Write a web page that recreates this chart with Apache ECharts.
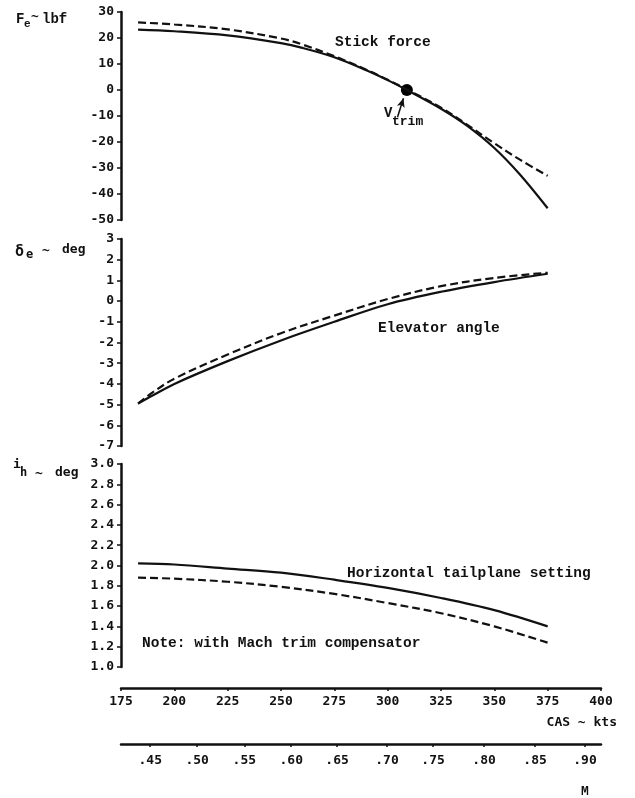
<!DOCTYPE html>
<html><head><meta charset="utf-8">
<script src="https://cdn.jsdelivr.net/npm/echarts@6/dist/echarts.min.js"></script>
<style>html,body{margin:0;padding:0;background:#fff}#c{width:635px;height:798px}</style>
</head><body><div id="c"></div>
<script>
// ---- data ----
const casTop = [183, 200, 225, 250, 260, 275, 290, 300, 309, 325, 337, 350, 362, 375];
const forceSolid = [23.2, 22.6, 21.0, 18.0, 16.2, 12.6, 7.6, 3.8, 0, -7.2, -13.6, -22.3, -32.5, -45.5];
const forceDashed = [26.0, 25.2, 23.3, 19.8, 17.5, 13.0, 7.8, 3.9, 0.2, -6.8, -13.2, -20.5, -26.8, -33.0];
const trimPoint = [309, 0];
const trimArrow = [[304.6, -10.5], [307.4, -3.2]];

const casMid = [183, 190, 200, 225, 250, 275, 300, 325, 350, 375];
const elevSolid = [-4.95, -4.55, -4.0, -2.9, -1.9, -1.0, -0.15, 0.45, 0.92, 1.32];
const elevDashed = [-4.95, -4.4, -3.75, -2.58, -1.55, -0.7, 0.1, 0.72, 1.12, 1.37];

const casBot = [183, 200, 225, 250, 275, 300, 325, 350, 375];
const tailSolid = [2.02, 2.01, 1.97, 1.93, 1.86, 1.78, 1.68, 1.56, 1.40];
const tailDashed = [1.88, 1.87, 1.84, 1.79, 1.72, 1.63, 1.53, 1.40, 1.24];

const machLabels = ['.45', '.50', '.55', '.60', '.65', '.70', '.75', '.80', '.85', '.90'];
const machCas = [188.7, 210.7, 232.8, 254.8, 276.3, 299.7, 321.3, 345.2, 369.1, 392.5];

// ---- chart ----
const zip = (a, b) => a.map((x, i) => [x, b[i]]);
const numFont = '"DejaVu Sans Mono", monospace';
const txtFont = '"Liberation Mono", "Courier New", monospace';
const black = '#111';

function yAxis(gi, min, max, interval, fmt) {
  return {
    gridIndex: gi, type: 'value', min, max, interval,
    axisLine: { show: true, onZero: false, lineStyle: { color: black, width: 2.5 } },
    axisTick: { show: true, length: 4, lineStyle: { color: black, width: 1.5 } },
    splitLine: { show: false },
    axisLabel: { margin: 7, color: black, fontFamily: numFont, fontWeight: 'bold', fontSize: 13, formatter: fmt }
  };
}
function hiddenX(gi) {
  return { gridIndex: gi, type: 'value', min: 175, max: 400, show: false, splitLine: { show: false } };
}
function line(xi, xs, ys, dashed) {
  return {
    type: 'line', xAxisIndex: xi, yAxisIndex: xi, data: zip(xs, ys), smooth: 0.35,
    symbol: 'none', silent: true,
    lineStyle: { color: black, width: 2.2, type: dashed ? [8, 4] : 'solid' }
  };
}
function t(text, x, y, size, font, align) {
  return { type: 'text', x, y, style: { text, fill: black, font: 'bold ' + size + 'px ' + font,
    textAlign: align || 'left', textVerticalAlign: 'middle' } };
}

const option = {
  animation: false,
  backgroundColor: '#fff',
  grid: [
    { left: 121, width: 480, top: 12, height: 208 },
    { left: 121, width: 480, top: 239, height: 207 },
    { left: 121, width: 480, top: 464, height: 203 }
  ],
  xAxis: [
    hiddenX(0), hiddenX(1),
    { gridIndex: 2, type: 'value', min: 175, max: 400, interval: 25, position: 'bottom', offset: 21,
      axisLine: { onZero: false, lineStyle: { color: black, width: 2.5 } },
      axisTick: { length: 3, lineStyle: { color: black, width: 1.5 } },
      splitLine: { show: false },
      axisLabel: { margin: 7, color: black, fontFamily: numFont, fontWeight: 'bold', fontSize: 13 } },
    { gridIndex: 2, type: 'value', min: 175, max: 400, position: 'bottom', offset: 77,
      axisLine: { onZero: false, lineStyle: { color: black, width: 2.5 } },
      axisTick: { length: 3, customValues: machCas, lineStyle: { color: black, width: 1.5 } },
      splitLine: { show: false },
      axisLabel: { margin: 10, customValues: machCas, color: black, fontFamily: numFont, fontWeight: 'bold', fontSize: 13,
        formatter: v => { let bi = 0; machCas.forEach((c, i) => { if (Math.abs(c - v) < Math.abs(machCas[bi] - v)) bi = i; }); return machLabels[bi]; } } }
  ],
  yAxis: [
    yAxis(0, -50, 30, 10),
    yAxis(1, -7, 3, 1),
    yAxis(2, 1, 3, 0.2, v => v.toFixed(1))
  ],
  series: [
    line(0, casTop, forceSolid, false),
    line(0, casTop, forceDashed, true),
    { type: 'scatter', xAxisIndex: 0, yAxisIndex: 0, data: [trimPoint], symbolSize: 12,
      itemStyle: { color: '#000', opacity: 1 }, silent: true,
      markLine: { silent: true, symbol: ['none', 'arrow'], symbolSize: [6, 9],
        lineStyle: { color: black, width: 1.5, type: 'solid' }, label: { show: false },
        data: [[{ coord: trimArrow[0] }, { coord: trimArrow[1] }]] } },
    line(1, casMid, elevSolid, false),
    line(1, casMid, elevDashed, true),
    line(2, casBot, tailSolid, false),
    line(2, casBot, tailDashed, true)
  ],
  graphic: [
    // y-axis titles
    t('F', 16, 19, 14, txtFont), t('e', 24, 24, 11, txtFont), t('~', 31, 17, 13, numFont), t('lbf', 42, 19, 14, txtFont),
    t('δ', 15, 252, 15, numFont), t('e', 26, 255, 12, numFont), t('~', 42, 251, 13, numFont), t('deg', 62, 250, 13, numFont),
    t('i', 13, 465, 13, numFont), t('h', 20, 473, 12, numFont), t('~', 35, 474, 13, numFont), t('deg', 55, 473, 13, numFont),
    // annotations
    t('Stick force', 335, 42, 14.5, txtFont),
    t('V', 384, 113, 14, txtFont), t('trim', 392, 122, 13, txtFont),
    t('Elevator angle', 378, 328, 14.5, txtFont),
    t('Horizontal tailplane setting', 347, 573, 14.5, txtFont),
    t('Note: with Mach trim compensator', 142, 643, 14.5, txtFont),
    t('CAS ~ kts', 617, 723, 13, numFont, 'right'),
    t('M', 585, 792, 13, txtFont, 'center')
  ]
};
echarts.init(document.getElementById('c')).setOption(option);
</script></body></html>
